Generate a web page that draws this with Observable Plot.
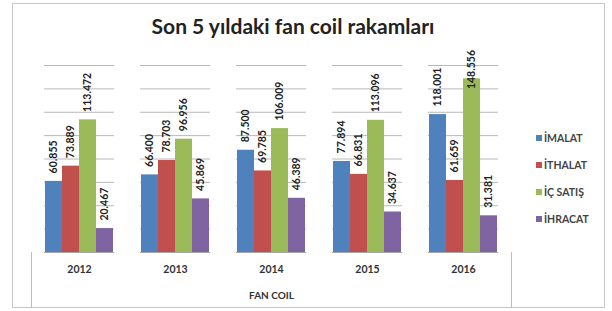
<!DOCTYPE html>
<html>
<head>
<meta charset="utf-8">
<script src="https://cdn.jsdelivr.net/npm/d3@7"></script>
<script src="https://cdn.jsdelivr.net/npm/@observablehq/plot@0.6"></script>
<style>
  html, body { margin: 0; padding: 0; background: #fff; }
  #wrap { position: relative; width: 612px; height: 311px; overflow: hidden; font-family: Lato, "Open Sans", sans-serif; }
  #frame { position: absolute; left: 12px; top: 3px; width: 593px; height: 305px; border: 1px solid #c8c8c8; box-sizing: border-box; }
  #title { position: absolute; left: 0; top: 13px; width: 586px; text-align: center; font-size: 21px; font-weight: bold; color: #222; }
  #chart { position: absolute; left: 0; top: 0; }
  #axisbox { position: absolute; left: 31px; top: 252px; width: 481px; height: 56px; border-left: 1px solid #bdbdbd; border-right: 1px solid #bdbdbd; box-sizing: border-box; }
  #xlabel { position: absolute; left: 31px; width: 481px; top: 289px; text-align: center; font-size: 10px; font-weight: bold; color: #333; }
  #legend { position: absolute; left: 536px; top: 131px; }
  .item { height: 27px; display: flex; align-items: flex-start; font-size: 10.5px; font-weight: bold; color: #444; line-height: 14px; }
  .sw { width: 6px; height: 6px; margin-right: 2px; margin-top: 4px; }
</style>
</head>
<body>
<div id="wrap">
  <div id="frame"></div>
  <div id="title"></div>
  <div id="axisbox"></div>
  <div id="chart"></div>
  <div id="xlabel"></div>
  <div id="legend"></div>
</div>
<script>
const titleText = "Son 5 yıldaki fan coil rakamları";
const axisTitle = "FAN COIL";
const years = ["2012", "2013", "2014", "2015", "2016"];
const series = ["İMALAT", "İTHALAT", "İÇ SATIŞ", "İHRACAT"];
const colors = ["#4f81bd", "#c0504d", "#9bbb59", "#8064a2"];
const imalat  = [60.855, 66.400, 87.500, 77.894, 118.001];
const ithalat = [73.889, 78.703, 69.785, 66.831, 61.659];
const icSatis = [113.472, 96.956, 106.009, 113.096, 148.556];
const ihracat = [20.467, 45.869, 46.389, 34.637, 31.381];
const gridTicks = [0, 20, 40, 60, 80, 100, 120, 140, 160];

const seriesValues = [imalat, ithalat, icSatis, ihracat];
const data = [];
years.forEach((y, i) => series.forEach((s, j) => data.push({year: y, series: s, value: seriesValues[j][i]})));

const fmt = v => v.toFixed(3);
const labelCap = 133;

document.getElementById("title").textContent = titleText;
document.getElementById("xlabel").textContent = axisTitle;

const chart = Plot.plot({
  width: 612,
  height: 311,
  marginTop: 65,
  marginBottom: 59,
  marginLeft: 31,
  marginRight: 100,
  style: {background: "transparent", fontFamily: "Lato, 'Open Sans', sans-serif"},
  fx: {domain: years, paddingInner: 0.27, paddingOuter: 0.135, label: null, tickSize: 0, tickPadding: 13},
  x: {domain: series, padding: 0, axis: null},
  y: {domain: [0, 160], axis: null},
  color: {domain: series, range: colors},
  marks: [
    Plot.gridY(gridTicks, {stroke: "#b8b8b8", strokeOpacity: 1}),
    Plot.barY(data, {fx: "year", x: "series", y: "value", fill: "series"}),
    Plot.ruleY([0], {stroke: "#a6a6a6"}),
    Plot.text(data, {
      fx: "year", x: "series", y: d => Math.min(d.value, labelCap),
      text: d => fmt(d.value), rotate: -90, textAnchor: "start", dy: -8,
      fontSize: 10.5, fontWeight: "bold", fill: "#222"
    })
  ]
});
chart.querySelectorAll("g[aria-label='fx-axis tick label']").forEach(g => {
  g.setAttribute("font-size", "10.5");
  g.setAttribute("font-weight", "bold");
  g.setAttribute("fill", "#333");
});
document.getElementById("chart").appendChild(chart);

const legend = document.getElementById("legend");
series.forEach((s, i) => {
  const item = document.createElement("div");
  item.className = "item";
  const sw = document.createElement("div");
  sw.className = "sw";
  sw.style.background = colors[i];
  const t = document.createElement("span");
  t.textContent = s;
  item.appendChild(sw);
  item.appendChild(t);
  legend.appendChild(item);
});
</script>
</body>
</html>
